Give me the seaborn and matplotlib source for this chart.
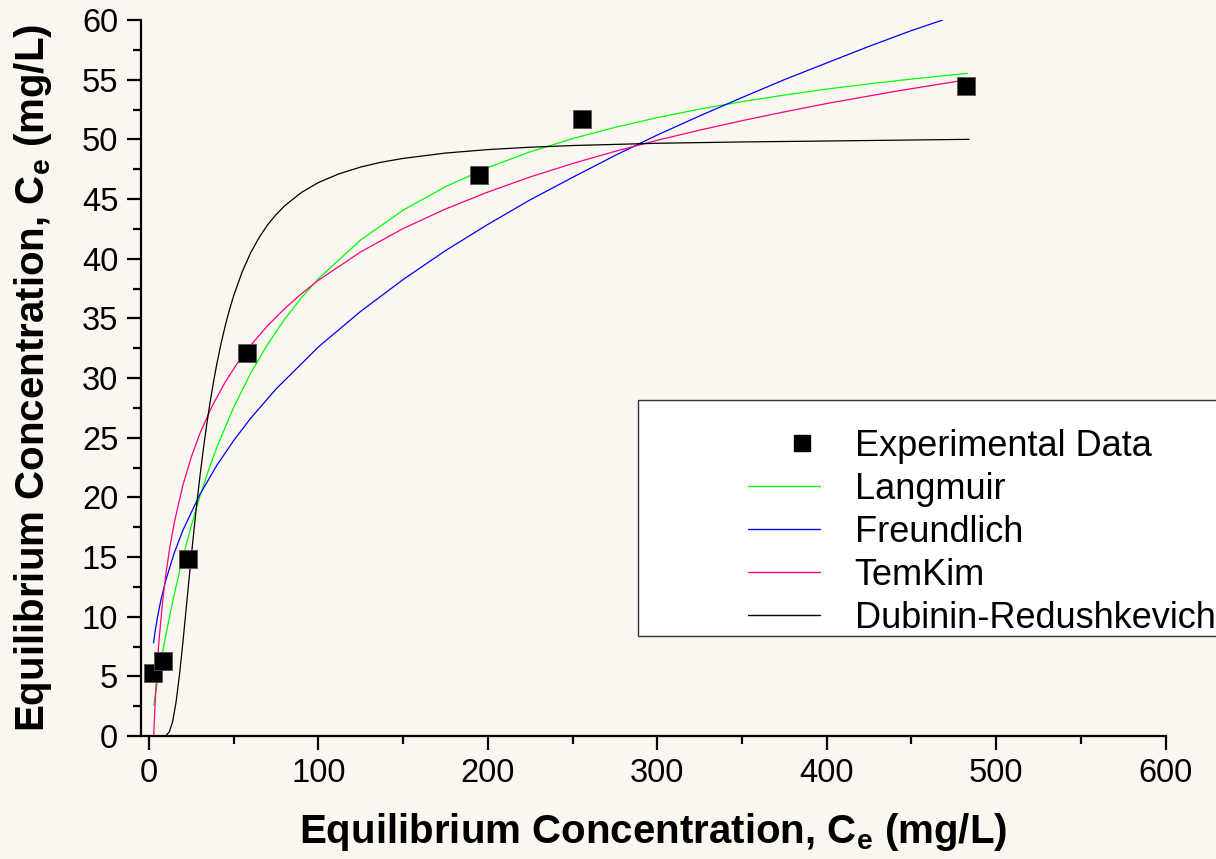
import numpy as np
import pandas as pd
import matplotlib
matplotlib.use("Agg")
import matplotlib.pyplot as plt
import seaborn as sns
from matplotlib.lines import Line2D
from matplotlib.patches import Rectangle
from matplotlib.legend_handler import HandlerLine2D
from matplotlib.ticker import MultipleLocator

# ---------------- data ----------------
exp_x = [2.4, 8.2, 23.0, 57.6, 194.7, 255.3, 482.4]
exp_y = [5.3, 6.3, 14.8, 32.1, 47.0, 51.7, 54.5]

lang_x = [2.8, 4, 5, 7, 10, 12.5, 15, 20, 25, 30, 35, 40, 50, 60, 70, 80, 90, 100, 125, 150,
          175, 200, 225, 250, 275, 300, 325, 350, 375, 400, 425, 450, 483]
lang_y = [2.55, 3.69, 4.55, 6.19, 8.49, 10.26, 11.93, 14.96, 17.64, 20.05, 22.21, 24.17,
          27.55, 30.39, 32.82, 34.91, 36.73, 38.32, 41.57, 44.06, 46.03, 47.63, 48.95, 50.06,
          51.00, 51.82, 52.53, 53.16, 53.71, 54.21, 54.65, 55.05, 55.53]

freu_x = [2.7, 3.5, 5, 7, 10, 15, 20, 30, 40, 50, 60, 75, 100, 125, 150, 175, 200, 225, 250,
          275, 300, 325, 350, 375, 400, 425, 450, 468.5]
freu_y = [7.80, 8.64, 9.95, 11.37, 13.09, 15.37, 17.23, 20.23, 22.67, 24.76, 26.62, 29.08,
          32.60, 35.59, 38.25, 40.67, 42.87, 44.93, 46.81, 48.64, 50.36, 51.96, 53.5, 55.0,
          56.4, 57.79, 59.11, 60.0]

temk_x = [2.8, 3.2, 4, 5, 6, 8, 10, 12.5, 15, 20, 25, 30, 37, 45, 52, 60, 70, 80, 90, 100,
          125, 150, 175, 200, 225, 250, 275, 300, 325, 350, 375, 400, 440, 483]
temk_y = [0.0, 1.43, 3.81, 6.19, 8.14, 11.21, 13.60, 15.98, 17.92, 21.0, 23.38, 25.33, 27.57,
          29.66, 31.20, 32.73, 34.38, 35.8, 37.06, 38.19, 40.57, 42.52, 44.16, 45.58, 46.85,
          47.97, 48.99, 49.92, 50.77, 51.56, 52.30, 53.0, 54.01, 55.0]

dr_x = [10, 12, 14, 16, 18, 20, 22, 23.5, 25, 26.5, 28, 30, 32, 34, 36, 38, 40, 42.5, 45,
        47.5, 50, 55, 60, 65, 70, 75, 80, 90, 100, 112, 125, 137, 150, 175, 200, 225, 250,
        300, 350, 400, 484]
dr_y = [0.04, 0.34, 1.22, 2.85, 5.12, 7.82, 10.73, 12.93, 15.09, 17.18, 19.18, 21.66, 23.94,
        26.01, 27.9, 29.60, 31.14, 32.86, 34.37, 35.71, 36.9, 38.89, 40.49, 41.77, 42.83,
        43.69, 44.42, 45.55, 46.38, 47.10, 47.68, 48.08, 48.40, 48.85, 49.14, 49.34, 49.48,
        49.67, 49.78, 49.86, 50.0]

models = ["Langmuir", "Freundlich", "TemKim", "Dubinin-Redushkevich"]
colors = {"Langmuir": "#00ff00", "Freundlich": "#0000ff",
          "TemKim": "#ff0080", "Dubinin-Redushkevich": "#000000"}
xlabel = "Equilibrium Concentration, C$_\\mathbf{e}$ (mg/L)"
ylabel = "Equilibrium Concentration, C$_\\mathbf{e}$ (mg/L)"

curves = pd.concat([
    pd.DataFrame({"x": lang_x, "y": lang_y, "model": "Langmuir"}),
    pd.DataFrame({"x": freu_x, "y": freu_y, "model": "Freundlich"}),
    pd.DataFrame({"x": temk_x, "y": temk_y, "model": "TemKim"}),
    pd.DataFrame({"x": dr_x, "y": dr_y, "model": "Dubinin-Redushkevich"}),
], ignore_index=True)
exp_df = pd.DataFrame({"x": exp_x, "y": exp_y})

# ---------------- style ----------------
sns.set_style("ticks")
bg = "#f9f7ef"
plt.rcParams["font.family"] = ["Liberation Sans", "DejaVu Sans"]
plt.rcParams["mathtext.fontset"] = "custom"
plt.rcParams["mathtext.rm"] = "Liberation Sans"
plt.rcParams["mathtext.bf"] = "Liberation Sans:bold"
plt.rcParams["mathtext.it"] = "Liberation Sans:italic"
for k in ["text.color", "axes.labelcolor", "xtick.color", "ytick.color", "axes.edgecolor"]:
    plt.rcParams[k] = "black"

W, H = 1216, 859
fig = plt.figure(figsize=(W / 100, H / 100), dpi=100, facecolor=bg)
ax = fig.add_axes([140.5 / W, 1 - 736 / H, (1165.5 - 140.5) / W, (736 - 20) / H])
ax.set_facecolor(bg)

sns.lineplot(data=curves, x="x", y="y", hue="model", palette=colors, hue_order=models,
             sort=False, estimator=None, legend=False, linewidth=0.9, ax=ax, zorder=2)
sns.scatterplot(data=exp_df, x="x", y="y", marker="s", s=170, color="black",
                edgecolor="#555555", linewidth=0.6, ax=ax, zorder=3, legend=False)

ax.set_xlim(-5, 600)
ax.set_ylim(0, 60)
ax.xaxis.set_major_locator(MultipleLocator(100))
ax.xaxis.set_minor_locator(MultipleLocator(50))
ax.yaxis.set_major_locator(MultipleLocator(5))
ax.yaxis.set_minor_locator(MultipleLocator(2.5))
for s in ["top", "right"]:
    ax.spines[s].set_visible(False)
for s in ["left", "bottom"]:
    ax.spines[s].set_linewidth(1.6)
    ax.spines[s].set_color("black")
ax.tick_params(which="major", length=10, width=1.6, labelsize=23.5, pad=6, colors="black")
ax.tick_params(which="minor", length=6, width=1.6)

ax.set_xlabel(xlabel, fontsize=29, fontweight="bold", labelpad=16)
ax.set_ylabel(ylabel, fontsize=29, fontweight="bold", labelpad=20)

# legend frame (extends past the right edge as in the reference)
fig.patches.append(Rectangle((638 / W, 1 - 636 / H), (W + 20 - 638) / W, (636 - 400) / H,
                             transform=fig.transFigure, facecolor="white",
                             edgecolor="#333333", linewidth=1.0, zorder=5))


class RightMarker(HandlerLine2D):
    """Place the single legend marker at 3/4 of the handle width."""
    def get_xdata(self, legend, xdescent, ydescent, width, height, fontsize):
        xd = np.array([-xdescent + 0.5 * width, -xdescent + width])
        return xd, np.array([-xdescent + 0.75 * width])


handles = [Line2D([], [], marker="s", ls="none", color="black", markersize=11)]
handles += [Line2D([], [], color=colors[m], lw=1.0) for m in models]
labels = ["Experimental Data"] + models
leg = fig.legend(handles, labels, loc="upper left",
                 bbox_to_anchor=(748 / W, 1 - 429 / H), frameon=False,
                 fontsize=26, handlelength=2.0, handletextpad=0.95,
                 labelspacing=0.22, borderpad=0, borderaxespad=0,
                 handler_map={handles[0]: RightMarker(numpoints=1)})
leg.set_zorder(6)

fig.savefig("out.png", dpi=100, facecolor=bg)
